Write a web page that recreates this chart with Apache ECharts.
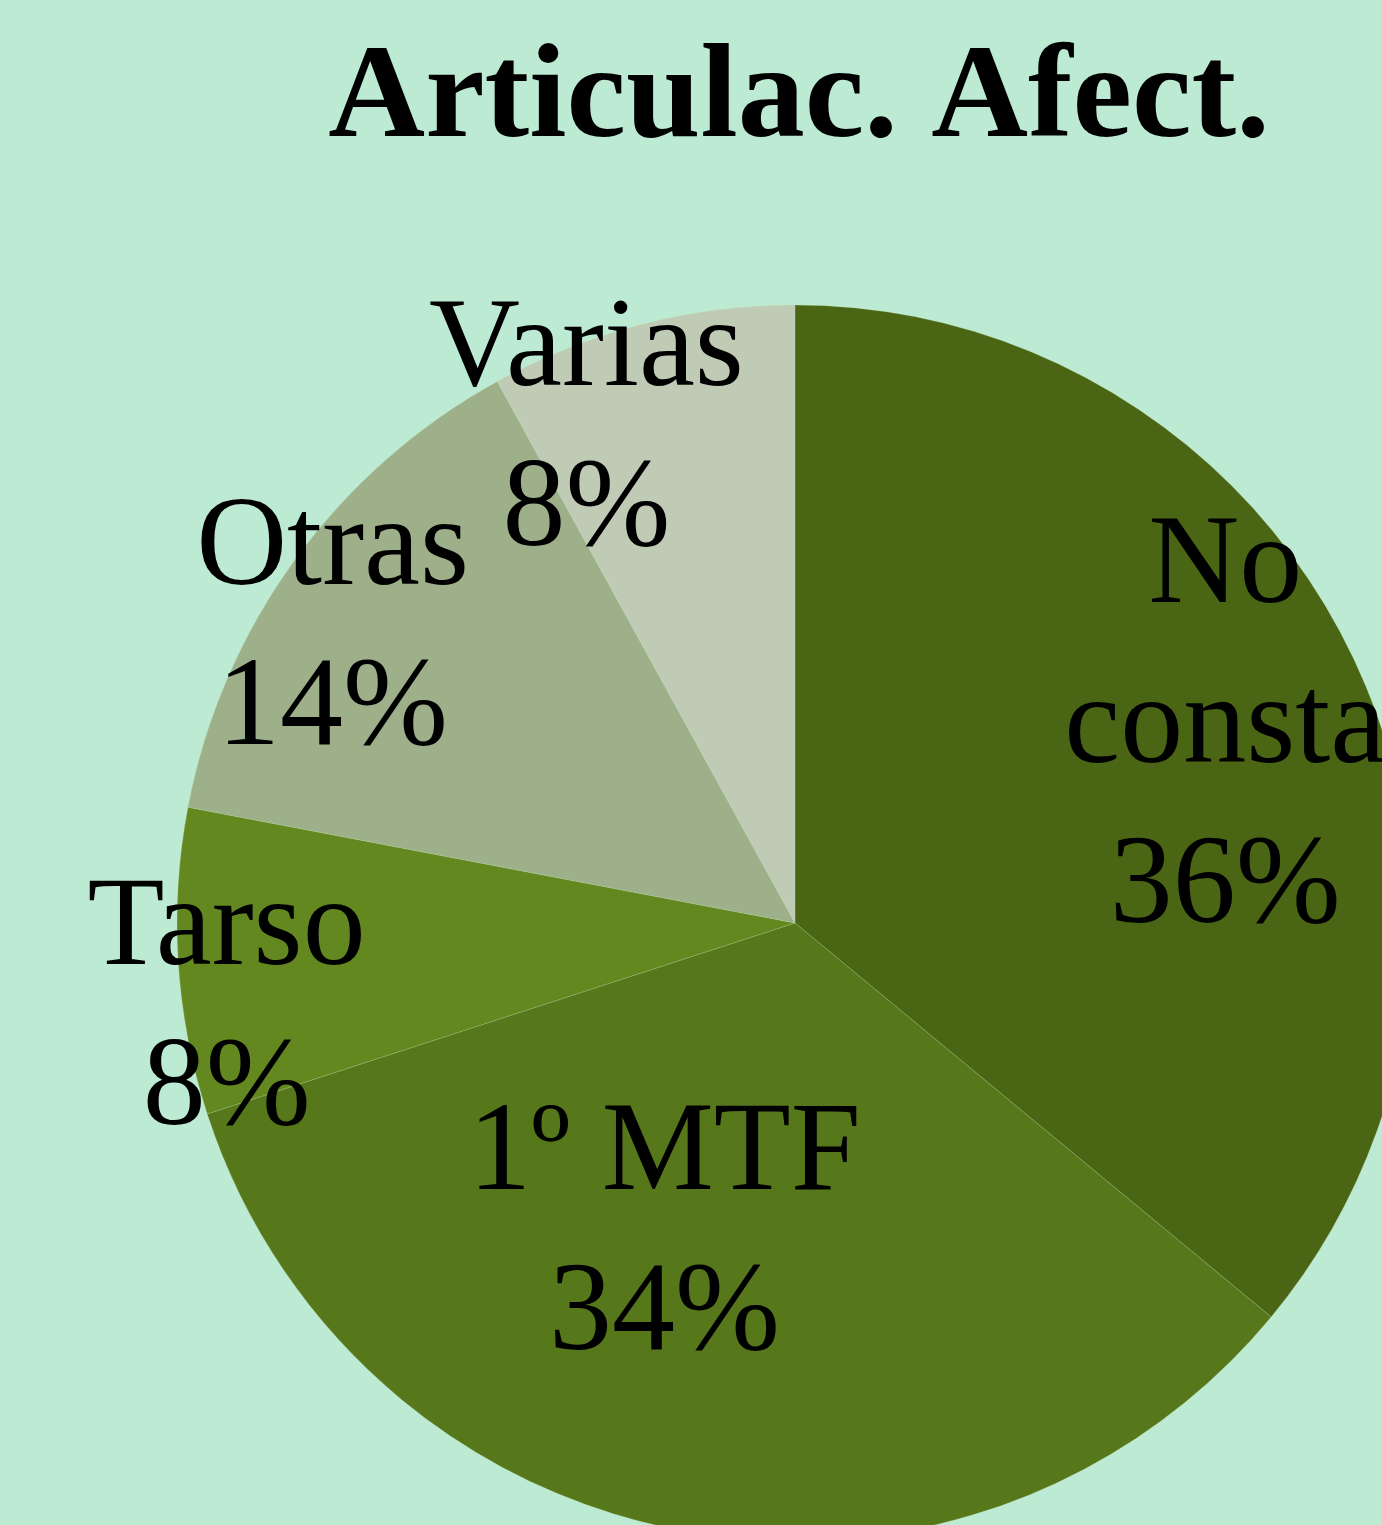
<!DOCTYPE html>
<html>
<head>
<meta charset="utf-8">
<script src="https://cdn.jsdelivr.net/npm/echarts@6/dist/echarts.min.js"></script>
<style>
  html, body { margin: 0; padding: 0; background: #bdead3; }
  #chart { width: 1382px; height: 1525px; }
</style>
</head>
<body>
<div id="chart"></div>
<script>
// slices, clockwise from 12 o'clock
const categories = ['No consta', '1º MTF', 'Tarso', 'Otras', 'Varias'];
const percents = [36, 34, 8, 14, 8];
const colors = ['#4a6614', '#56771a', '#648820', '#9db08a', '#c0cbb5'];

// nudge of each label from its default inside spot (px)
const labelShift = [
  [148, -61],
  [-72, 6],
  [-257, 68],
  [-210, -109],
  [-131, -189]
];

const chart = echarts.init(document.getElementById('chart'));

const option = {
  backgroundColor: '#bdead3',
  animation: false,
  title: {
    text: 'Articulac. Afect.',
    left: 794,
    top: 29,
    textAlign: 'center',
    textStyle: {
      fontFamily: 'Liberation Serif',
      fontWeight: 'bold',
      fontSize: 134,
      color: '#000'
    }
  },
  series: [{
    type: 'pie',
    center: [795, 923],
    radius: 618,
    startAngle: 90,
    clockwise: true,
    avoidLabelOverlap: false,
    emphasis: { disabled: true },
    itemStyle: {
      borderColor: 'rgba(200,225,180,0.2)',
      borderWidth: 1
    },
    label: {
      show: true,
      position: 'inside',
      rotate: 0,
      formatter: p => p.name.replace('No ', 'No\n') + '\n' + p.percent + '%',
      fontFamily: 'Liberation Serif',
      fontSize: 126,
      lineHeight: 160,
      color: '#000'
    },
    labelLine: { show: false },
    labelLayout: params => ({
      dx: labelShift[params.dataIndex][0],
      dy: labelShift[params.dataIndex][1]
    }),
    data: categories.map((name, i) => ({
      name,
      value: percents[i],
      itemStyle: { color: colors[i] }
    }))
  }]
};

chart.setOption(option);
</script>
</body>
</html>
